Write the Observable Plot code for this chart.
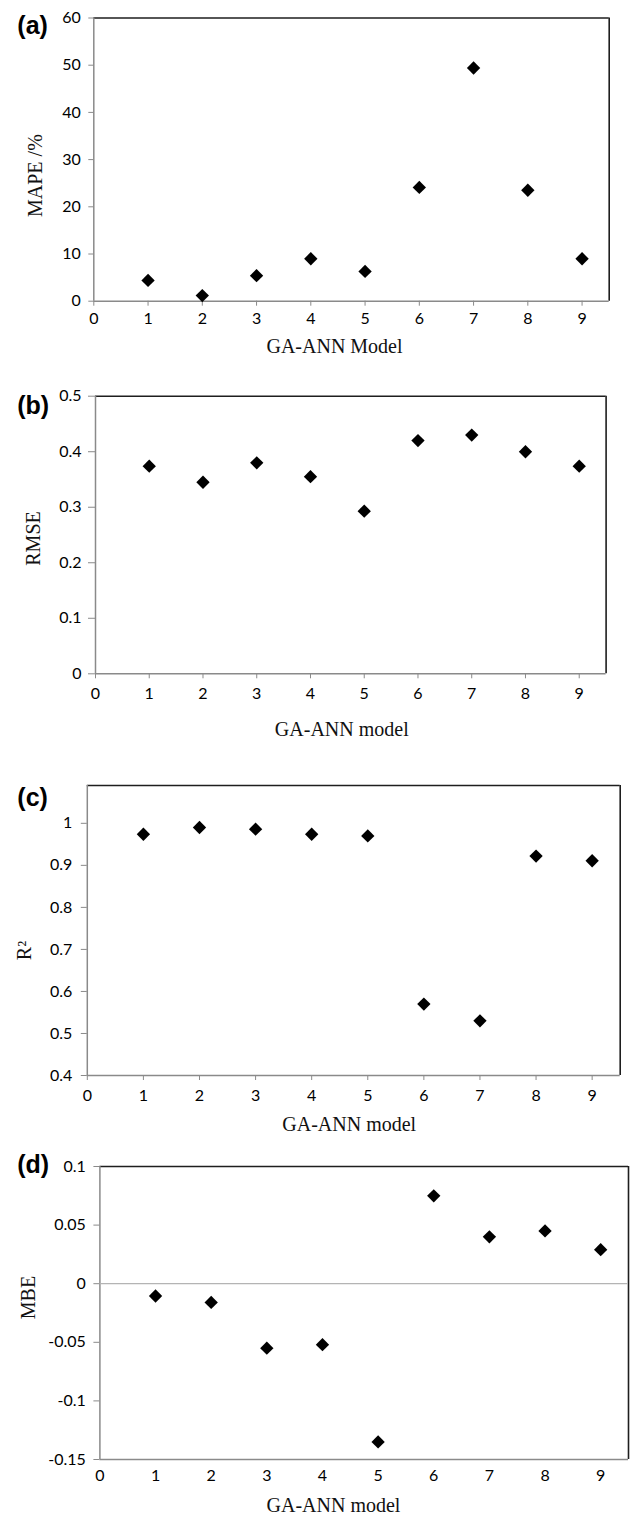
<!DOCTYPE html>
<html>
<head>
<meta charset="utf-8">
<script src="https://cdn.jsdelivr.net/npm/d3@7"></script>
<script src="https://cdn.jsdelivr.net/npm/@observablehq/plot@0.6"></script>
<style>
  html, body { margin: 0; padding: 0; background: #fff; }
  #chart { width: 631px; }
  #chart svg { display: block; }
</style>
</head>
<body>
<div id="chart"></div>
<script>
// GA-ANN model numbers (x axis) and tick labels
const models = [1, 2, 3, 4, 5, 6, 7, 8, 9];
const xTicks = [0, 1, 2, 3, 4, 5, 6, 7, 8, 9];

// Error statistics per model
const mape = [4.4, 1.2, 5.4, 9.0, 6.3, 24.1, 49.4, 23.5, 9.0];
const rmse = [0.374, 0.345, 0.380, 0.355, 0.293, 0.420, 0.430, 0.400, 0.374];
const r2 = [0.974, 0.990, 0.986, 0.974, 0.970, 0.570, 0.530, 0.922, 0.911];
const mbe = [-0.0105, -0.016, -0.055, -0.052, -0.135, 0.075, 0.040, 0.045, 0.029];

// y tick values for each panel
const mapeTicks = [0, 10, 20, 30, 40, 50, 60];
const rmseTicks = [0, 0.1, 0.2, 0.3, 0.4, 0.5];
const r2Ticks = [0.4, 0.5, 0.6, 0.7, 0.8, 0.9, 1];
const mbeTicks = [-0.15, -0.1, -0.05, 0, 0.05, 0.1];

const AXIS_GRAY = "#8a8a8a";
const BORDER = "#1e1e1e";

function panel(cfg) {
  const rows = models.map((m, i) => ({model: m, value: cfg.values[i]}));
  const [y0, y1] = cfg.yDomain;
  const xMax = 9.5;
  const marks = [
    // top and right borders of the plot area
    Plot.ruleY([y1], {stroke: BORDER, strokeWidth: 1.6}),
    Plot.ruleX([xMax], {stroke: BORDER, strokeWidth: 1.6}),
    // left and bottom axis lines
    Plot.ruleX([0], {stroke: AXIS_GRAY, strokeWidth: 1.5}),
    Plot.ruleY([y0], {stroke: AXIS_GRAY, strokeWidth: 1.5})
  ];
  if (cfg.zeroLine) marks.push(Plot.ruleY([0], {stroke: "#b4b4b4", strokeWidth: 1.2}));
  marks.push(
    Plot.axisY({
      ticks: cfg.yTicks, tickSize: cfg.yTickSize, tickPadding: cfg.yTickPadding,
      stroke: AXIS_GRAY, fill: "#000", label: null, tickFormat: d => String(d)
    }),
    Plot.axisX({
      ticks: xTicks, tickSize: cfg.xTickSize, tickPadding: cfg.xTickPadding,
      stroke: AXIS_GRAY, fill: "#000", label: null, tickFormat: d => String(d)
    }),
    Plot.dot(rows, {x: "model", y: "value", symbol: "diamond2", r: 6, fill: "#000", stroke: "none"}),
    // axis titles
    Plot.text([cfg.xTitle], {
      text: d => d, frameAnchor: "bottom", lineAnchor: "bottom", textAnchor: "middle",
      dx: cfg.xTitleDx, dy: cfg.xTitleDy,
      fontFamily: "Liberation Serif", fontSize: 20, fill: "#111"
    }),
    Plot.text([cfg.yTitle], {
      text: d => d, frameAnchor: "left", lineAnchor: "bottom", textAnchor: "middle", rotate: -90,
      dx: cfg.yTitleDx, dy: cfg.yTitleDy,
      fontFamily: "Liberation Serif", fontSize: 20, fill: "#111"
    }),
    // panel letter
    Plot.text([cfg.letter], {
      text: d => d, frameAnchor: "top-left", lineAnchor: "middle", textAnchor: "start",
      dx: cfg.letterDx, dy: cfg.letterDy,
      fontFamily: "Liberation Sans", fontWeight: "bold", fontSize: 25, fill: "#000"
    })
  );
  return Plot.plot({
    width: 631,
    height: cfg.height,
    marginTop: cfg.margin[0],
    marginRight: cfg.margin[1],
    marginBottom: cfg.margin[2],
    marginLeft: cfg.margin[3],
    style: {fontFamily: "Lato", fontSize: "16px", background: "#fff", color: "#000"},
    x: {domain: [0, xMax]},
    y: {domain: cfg.yDomain},
    marks
  });
}

const chart = document.getElementById("chart");

chart.append(panel({
  letter: "(a)", values: mape, yDomain: [0, 60], yTicks: mapeTicks,
  height: 365, margin: [17.5, 22.3, 64.3, 93.3],
  yTickSize: 5, yTickPadding: 8, xTickSize: 5, xTickPadding: 6.5,
  xTitle: "GA-ANN Model", xTitleDx: -17, xTitleDy: 52,
  yTitle: "MAPE /%", yTitleDx: -52, yTitleDy: 16,
  letterDx: -76.5, letterDy: 8.3
}));

chart.append(panel({
  letter: "(b)", values: rmse, yDomain: [0, 0.5], yTicks: rmseTicks,
  height: 380, margin: [30.7, 25.4, 71.7, 95],
  yTickSize: 7, yTickPadding: 7, xTickSize: 5, xTickPadding: 9,
  xTitle: "GA-ANN model", xTitleDx: -9, xTitleDy: 61.7,
  yTitle: "RMSE", yTitleDx: -55.5, yTitleDy: 3.5,
  letterDx: -78.3, letterDy: 9.3
}));

chart.append(panel({
  letter: "(c)", values: r2, yDomain: [0.4, 1.09], yTicks: r2Ticks,
  height: 395, margin: [40, 11.3, 65, 86.8],
  yTickSize: 6, yTickPadding: 9, xTickSize: 5, xTickPadding: 9.5,
  xTitle: "GA-ANN model", xTitleDx: -4.5, xTitleDy: 55,
  yTitle: "R²", yTitleDx: -56.8, yTitleDy: 20,
  letterDx: -70, letterDy: 12.5
}));

chart.append(panel({
  letter: "(d)", values: mbe, yDomain: [-0.15, 0.1], yTicks: mbeTicks, zeroLine: true,
  height: 375, margin: [26, 3, 56, 99.4],
  yTickSize: 6, yTickPadding: 8, xTickSize: 0, xTickPadding: 10.5,
  xTitle: "GA-ANN model", xTitleDx: -30.7, xTitleDy: 52.7,
  yTitle: "MBE", yTitleDx: -65.4, yTitleDy: -15.5,
  letterDx: -82.7, letterDy: -2
}));
</script>
</body>
</html>
